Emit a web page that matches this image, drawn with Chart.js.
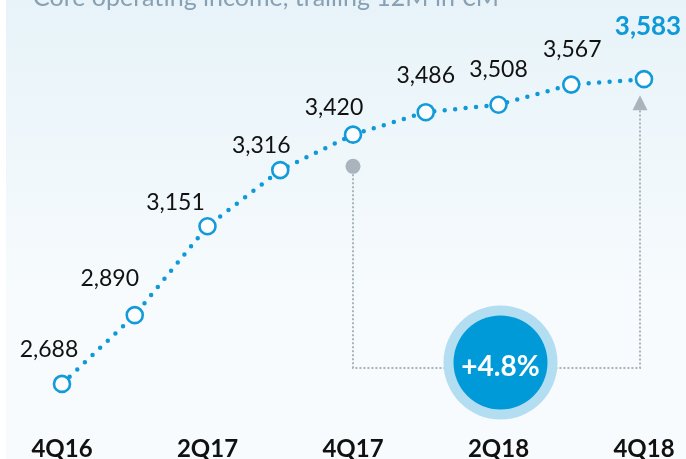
<!DOCTYPE html>
<html>
<head>
<meta charset="utf-8">
<script src="https://cdn.jsdelivr.net/npm/chart.js@4/dist/chart.umd.min.js"></script>
<style>
  html, body { margin: 0; padding: 0; background: #ffffff; }
  #wrap { width: 686px; height: 459px; position: relative; }
</style>
</head>
<body>
<div id="wrap"><canvas id="c" width="686" height="459"></canvas></div>
<script>
// ---- data ----
const quarters = ['4Q16', '1Q17', '2Q17', '3Q17', '4Q17', '1Q18', '2Q18', '3Q18', '4Q18'];
const coreIncome = [2688, 2890, 3151, 3316, 3420, 3486, 3508, 3567, 3583];
const valueLabels = ['2,688', '2,890', '3,151', '3,316', '3,420', '3,486', '3,508', '3,567', '3,583'];
const titleText = 'Core operating income, trailing 12M in €M';
const growthText = '+4.8%';
// annotation anchors (in data units)
const refIndex = 4, refValue = 3327;      // grey start dot
const baseValue = 2735;                   // horizontal connector
const arrowTipValue = 3536;               // arrow tip below last point
const badgeIndex = 6, badgeValue = 2751;  // growth badge

const labelOffsets = [[-13,-35],[-25,-37],[-32,-24],[-19,-25],[-19,-28],[0,-37],[0,-36],[1,-36],[4,-53]];

const bgPlugin = {
  id: 'bg',
  beforeDraw(chart) {
    const ctx = chart.ctx;
    ctx.save();
    ctx.fillStyle = '#ffffff';
    ctx.fillRect(0, 0, chart.width, chart.height);
    const g = ctx.createLinearGradient(0, 0, 0, 300);
    g.addColorStop(0, '#e7f3f9');
    g.addColorStop(1, '#f7fbfd');
    ctx.fillStyle = g;
    ctx.fillRect(6, 0, chart.width - 6, chart.height);
    // title (partially cut at top)
    ctx.fillStyle = '#88a0b3';
    ctx.font = '25px Lato';
    ctx.textBaseline = 'alphabetic';
    ctx.textAlign = 'left';
    ctx.fillText(titleText, 33, 6);
    ctx.restore();
  }
};

const annoPlugin = {
  id: 'anno',
  beforeDatasetsDraw(chart) {
    const ctx = chart.ctx;
    const xs = chart.scales.x, ys = chart.scales.y;
    const x0 = xs.getPixelForValue(refIndex);
    const x1 = xs.getPixelForValue(quarters.length - 1) - 4;
    const yDot = ys.getPixelForValue(refValue);
    const yBase = ys.getPixelForValue(baseValue);
    const yTip = ys.getPixelForValue(arrowTipValue);
    ctx.save();
    ctx.strokeStyle = '#a9b4bd';
    ctx.lineWidth = 2;
    ctx.setLineDash([2, 2]);
    ctx.beginPath();
    ctx.moveTo(x0, yDot);
    ctx.lineTo(x0, yBase);
    ctx.lineTo(x1, yBase);
    ctx.lineTo(x1, yTip + 12);
    ctx.stroke();
    ctx.setLineDash([]);
    ctx.fillStyle = '#a9b4bd';
    ctx.beginPath();
    ctx.arc(x0, yDot, 7.5, 0, Math.PI * 2);
    ctx.fill();
    ctx.beginPath();
    ctx.moveTo(x1, yTip);
    ctx.lineTo(x1 - 7.5, yTip + 15);
    ctx.lineTo(x1 + 7.5, yTip + 15);
    ctx.closePath();
    ctx.fill();
    // badge
    const bx = xs.getPixelForValue(badgeIndex) + 2;
    const by = ys.getPixelForValue(badgeValue);
    ctx.fillStyle = '#b3def2';
    ctx.beginPath(); ctx.arc(bx, by, 57, 0, Math.PI * 2); ctx.fill();
    ctx.fillStyle = '#009ad9';
    ctx.beginPath(); ctx.arc(bx, by, 47, 0, Math.PI * 2); ctx.fill();
    ctx.fillStyle = '#ffffff';
    ctx.font = 'bold 28px Lato';
    ctx.textAlign = 'center';
    ctx.textBaseline = 'alphabetic';
    ctx.fillText(growthText, bx, by + 14);
    ctx.restore();
  }
};

const labelPlugin = {
  id: 'vlabels',
  afterDatasetsDraw(chart) {
    const ctx = chart.ctx;
    const meta = chart.getDatasetMeta(0);
    ctx.save();
    ctx.textAlign = 'center';
    ctx.textBaseline = 'alphabetic';
    meta.data.forEach((pt, i) => {
      const last = i === meta.data.length - 1;
      ctx.font = last ? 'bold 26px Lato' : '23px Lato';
      ctx.fillStyle = last ? '#0e9ad8' : '#111111';
      const [dx, dy] = labelOffsets[i];
      ctx.fillText(valueLabels[i], pt.x + dx, pt.y + dy + (last ? 9 : 8));
    });
    ctx.restore();
  }
};

new Chart(document.getElementById('c'), {
  type: 'line',
  data: {
    labels: quarters,
    datasets: [{
      data: coreIncome,
      borderColor: '#0e9ad8',
      borderWidth: 4.5,
      borderDash: [0, 10.5],
      borderCapStyle: 'round',
      tension: 0,
      pointRadius: 8,
      pointBorderWidth: 2.6,
      pointBorderColor: '#139bd9',
      pointBackgroundColor: '#fbfdfe',
      clip: false
    }]
  },
  options: {
    responsive: false,
    animation: false,
    layout: { autoPadding: false, padding: { left: 62, right: 42, top: 0, bottom: 0 } },
    plugins: { legend: { display: false }, tooltip: { enabled: false } },
    scales: {
      x: {
        offset: false,
        grid: { display: false, drawTicks: false },
        border: { display: false },
        afterFit(s) { s.height = 24; },
        ticks: {
          autoSkip: false,
          maxRotation: 0,
          padding: 0,
          color: '#111111',
          font: { family: 'Lato', size: 24, weight: 'bold' },
          callback(v, i) { return i % 2 === 0 ? quarters[i] : ''; }
        }
      },
      y: { display: false, min: 2538, max: 3815.5 }
    }
  },
  plugins: [bgPlugin, annoPlugin, labelPlugin]
});
</script>
</body>
</html>
